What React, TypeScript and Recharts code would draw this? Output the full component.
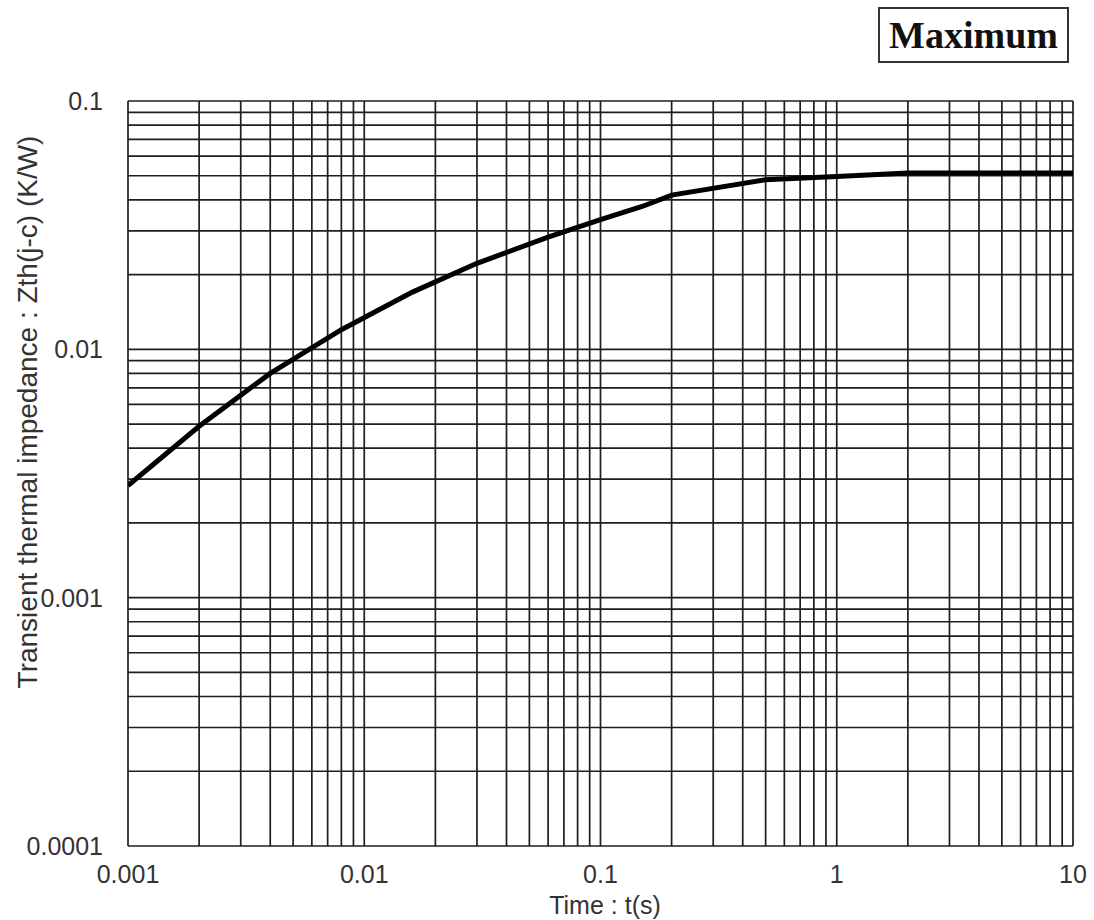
import { LineChart, Line, XAxis, YAxis, CartesianGrid } from 'recharts'

// (log-log)
const times = [0.001, 0.002, 0.004, 0.008, 0.016, 0.03, 0.06, 0.1, 0.15, 0.2, 0.5, 1, 2, 10]
const zth = [0.00283, 0.0049, 0.008, 0.012, 0.017, 0.0222, 0.0283, 0.0333, 0.0376, 0.0418, 0.0482, 0.0497, 0.0513, 0.0513]

const xDecades = [0.001, 0.01, 0.1, 1, 10]
const yDecades = [0.0001, 0.001, 0.01, 0.1]
const multipliers = [1, 2, 3, 4, 5, 6, 7, 8, 9]

const xTicks = xDecades.flatMap((d, i) => (i === xDecades.length - 1 ? [d] : multipliers.map((m) => m * d)))
const yTicks = yDecades.flatMap((d, i) => (i === yDecades.length - 1 ? [d] : multipliers.map((m) => m * d)))

const data = times.map((t, i) => ({ t, z: zth[i] }))

const font = 'Liberation Sans, Arial, sans-serif'
const tickStyle = { fill: '#333', fontSize: 25, fontFamily: font }

const fmt = (majors: number[]) => (v: number) => (majors.includes(v) ? String(v) : '')

export default function App() {
  return (
    <div style={{ position: 'absolute', left: 0, top: 0, width: 1094, height: 920, background: '#fff' }}>
      <LineChart width={1094} height={920} data={data} margin={{ top: 101, right: 21, left: 8, bottom: 14 }}>
        <CartesianGrid stroke="#1e1e1e" strokeWidth={1.7} />
        <XAxis
          dataKey="t"
          type="number"
          scale="log"
          domain={[0.001, 10]}
          ticks={xTicks}
          interval={0}
          tickFormatter={fmt(xDecades)}
          tick={tickStyle}
          tickLine={false}
          axisLine={false}
          tickMargin={13}
          height={60}
          allowDataOverflow
          label={{
            content: () => (
              <text x={605} y={914} textAnchor="middle" fill="#333" fontSize={25} fontFamily={font}>
                Time : t(s)
              </text>
            ),
          }}
        />
        <YAxis
          type="number"
          scale="log"
          domain={[0.0001, 0.1]}
          ticks={yTicks}
          interval={0}
          tickFormatter={fmt(yDecades)}
          tick={tickStyle}
          tickLine={false}
          axisLine={false}
          tickMargin={19}
          width={120}
          allowDataOverflow
          label={{
            content: () => (
              <text
                x={27}
                y={412}
                transform="rotate(-90, 27, 412)"
                textAnchor="middle"
                dominantBaseline="central"
                fill="#333"
                fontSize={28}
                fontFamily={font}
              >
                Transient thermal impedance : Zth(j-c) (K/W)
              </text>
            ),
          }}
        />
        <Line dataKey="z" type="linear" stroke="#000" strokeWidth={5} dot={false} isAnimationActive={false} />
      </LineChart>
      <div
        style={{
          position: 'absolute',
          left: 878,
          top: 7,
          width: 191,
          height: 56,
          boxSizing: 'border-box',
          border: '2px solid #333',
          display: 'flex',
          alignItems: 'center',
          justifyContent: 'center',
          fontFamily: 'Liberation Serif, Times New Roman, serif',
          fontWeight: 'bold',
          fontSize: 38,
          color: '#111',
        }}
      >
        Maximum
      </div>
    </div>
  )
}
